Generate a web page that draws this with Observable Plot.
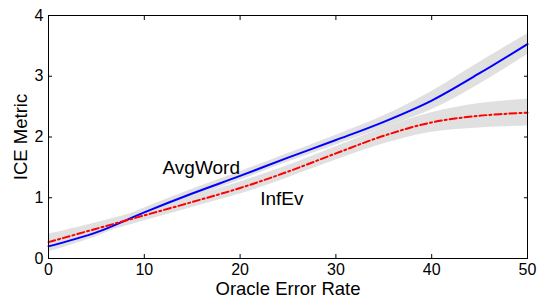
<!DOCTYPE html>
<html>
<head>
<meta charset="utf-8">
<script src="https://cdn.jsdelivr.net/npm/d3@7"></script>
<script src="https://cdn.jsdelivr.net/npm/@observablehq/plot@0.6"></script>
<style>
  body { margin: 0; background: #fff; }
  g[aria-label="x-axis label"], g[aria-label="y-axis label"] { font-size: 18.5px; }
</style>
</head>
<body>
<div id="chart"></div>
<script>
// Oracle error rate samples
const errorRate = [0, 5, 10, 15, 20, 25, 30, 35, 40, 45, 50];
// AvgWord series and its band half-width
const avgWord     = [0.20, 0.43, 0.76, 1.07, 1.36, 1.66, 1.95, 2.25, 2.60, 3.05, 3.53];
const avgWordHalf = [0.09, 0.07, 0.07, 0.07, 0.07, 0.07, 0.08, 0.10, 0.15, 0.18, 0.17];
// InfEv series and its band half-width
const infEv     = [0.27, 0.49, 0.71, 0.93, 1.16, 1.43, 1.73, 2.02, 2.24, 2.35, 2.40];
const infEvHalf = [0.13, 0.10, 0.09, 0.09, 0.10, 0.10, 0.11, 0.13, 0.16, 0.20, 0.22];
// Axis ticks
const xTicks = [0, 10, 20, 30, 40, 50];
const yTicks = [0, 1, 2, 3, 4];
// In-plot labels
const labelText = ["AvgWord", "InfEv"];
const labelX = [11.9, 22.1];
const labelY = [1.39, 0.88];

const avgRows = errorRate.map((x, i) => ({x, y: avgWord[i], lo: avgWord[i] - avgWordHalf[i], hi: avgWord[i] + avgWordHalf[i]}));
const infRows = errorRate.map((x, i) => ({x, y: infEv[i], lo: infEv[i] - infEvHalf[i], hi: infEv[i] + infEvHalf[i]}));
const labels = labelText.map((t, i) => ({t, x: labelX[i], y: labelY[i]}));

const font = "'Liberation Sans', Arial, Helvetica, sans-serif";
const curve = "catmull-rom";
const fmt = d3.format("d");

const chart = Plot.plot({
  width: 537,
  height: 298,
  marginLeft: 48,
  marginRight: 10,
  marginTop: 15,
  marginBottom: 40,
  style: {fontFamily: font, fontSize: "16px", color: "black", background: "white"},
  x: {domain: [0, 50]},
  y: {domain: [0, 4]},
  marks: [
    Plot.areaY(avgRows, {x: "x", y1: "lo", y2: "hi", fill: "#e0e0e0", curve}),
    Plot.areaY(infRows, {x: "x", y1: "lo", y2: "hi", fill: "#e0e0e0", curve}),
    Plot.lineY(avgRows, {x: "x", y: "y", stroke: "#0000ff", strokeWidth: 2, curve}),
    Plot.lineY(infRows, {x: "x", y: "y", stroke: "#ff0000", strokeWidth: 2, strokeDasharray: "7,3,2,3", curve}),
    Plot.text(labels, {x: "x", y: "y", text: "t", textAnchor: "start", lineAnchor: "bottom", fontSize: 19, fill: "black"}),
    Plot.frame({stroke: "black", strokeWidth: 1}),
    Plot.axisX(xTicks, {anchor: "bottom", tickSize: -4, tickPadding: 9, fontSize: 16, tickFormat: fmt, label: "Oracle Error Rate", labelAnchor: "center", labelArrow: "none", labelOffset: 36}),
    Plot.axisX(xTicks, {anchor: "top", tickSize: -4, tickFormat: () => "", label: null}),
    Plot.axisY(yTicks, {anchor: "left", tickSize: -4, tickPadding: 9, fontSize: 16, tickFormat: fmt, label: "ICE Metric", labelAnchor: "center", labelArrow: "none", labelOffset: 35}),
    Plot.axisY(yTicks, {anchor: "right", tickSize: -4, tickFormat: () => "", label: null})
  ]
});
document.getElementById("chart").appendChild(chart);
</script>
</body>
</html>
